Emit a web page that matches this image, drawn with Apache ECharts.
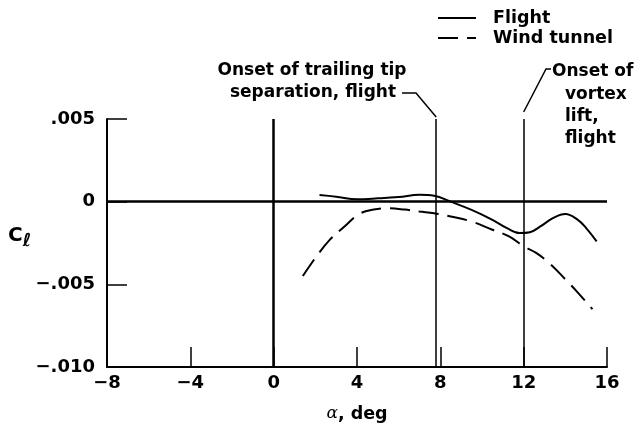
<!DOCTYPE html>
<html>
<head>
<meta charset="utf-8">
<script src="https://cdn.jsdelivr.net/npm/echarts@6/dist/echarts.min.js"></script>
<style>
html,body{margin:0;padding:0;background:#fff;}
#c{width:639px;height:428px;}
</style>
</head>
<body>
<div id="c"></div>
<script>
// ---- data ----
const flightAlpha = [2.2, 3.0, 4.0, 5.0, 6.0, 7.0, 7.7, 8.5, 9.5, 10.5, 11.2, 11.8, 12.3, 12.8, 13.4, 14.0, 14.6, 15.0, 15.5];
const flightCl    = [0.0004, 0.0003, 0.00015, 0.0002, 0.00028, 0.00042, 0.00036, 0.0, -0.0005, -0.0011, -0.0016, -0.0019, -0.00185, -0.0015, -0.001, -0.00075, -0.0011, -0.0016, -0.0024];
const windAlpha   = [1.4, 2.0, 2.7, 3.4, 4.1, 4.8, 5.5, 6.3, 7.0, 7.7, 8.5, 9.5, 10.5, 11.3, 12.0, 12.6, 13.3, 14.0, 14.6, 15.3];
const windCl      = [-0.0045, -0.0034, -0.0023, -0.0015, -0.00075, -0.00048, -0.0004, -0.00048, -0.0006, -0.0007, -0.0009, -0.0012, -0.0017, -0.0021, -0.0027, -0.0031, -0.0038, -0.0047, -0.0055, -0.0065];
const xTicks = [-8, -4, 0, 4, 8, 12, 16];
const xTickLabels = ['\u22128', '\u22124', '0', '4', '8', '12', '16'];
const yTicks = [0.005, 0, -0.005, -0.01];
const yTickLabels = ['.005', '0', '\u2212.005', '\u2212.010'];
const markAlphas = [0, 7.8, 12];
const seriesNames = ['Flight', 'Wind tunnel'];

const FONT = 'DejaVu Sans';
const chart = echarts.init(document.getElementById('c'));

function pair(a, b){ return a.map((v,i)=>[v, b[i]]); }
function lbl(ticks, labels, v){
  for (let i=0;i<ticks.length;i++){ if (Math.abs(ticks[i]-v) < 1e-9) return labels[i]; }
  return '';
}

const option = {
  animation: false,
  backgroundColor: '#fff',
  grid: {left: 107, right: 32, top: 119, bottom: 61, containLabel: false},
  legend: {
    data: seriesNames,
    orient: 'vertical',
    left: 432, top: 4,
    itemWidth: 38, itemHeight: 14, itemGap: 2,
    itemStyle: {opacity: 0},
    textStyle: {fontFamily: FONT, fontWeight: 'bold', fontSize: 17.5, color: '#000', padding: [0, 0, 0, 12]}
  },
  xAxis: {
    type: 'value', min: -8, max: 16, interval: 4,
    axisLine: {show: true, onZero: false, lineStyle: {color: '#000', width: 2}},
    axisTick: {show: true, inside: true, length: 20, lineStyle: {color: '#000', width: 1.5}},
    splitLine: {show: false},
    axisLabel: {margin: 7, color: '#000', fontFamily: FONT, fontWeight: 'bold', fontSize: 18,
      formatter: v => lbl(xTicks, xTickLabels, v)},
    name: '{a|\u03b1}{b|, deg}', nameLocation: 'middle', nameGap: 38,
    nameTextStyle: {rich: {
      a: {fontFamily: 'DejaVu Serif', fontStyle: 'italic', fontSize: 17, color: '#000'},
      b: {fontFamily: FONT, fontWeight: 'bold', fontSize: 17.5, color: '#000'}
    }}
  },
  yAxis: {
    type: 'value', min: -0.01, max: 0.005, interval: 0.005,
    axisLine: {show: true, onZero: false, lineStyle: {color: '#000', width: 2}},
    axisTick: {show: true, inside: true, length: 20, lineStyle: {color: '#000', width: 1.5}},
    splitLine: {show: false},
    axisLabel: {margin: 12, color: '#000', fontFamily: FONT, fontWeight: 'bold', fontSize: 18,
      formatter: v => lbl(yTicks, yTickLabels, v)}
  },
  series: [
    {
      name: seriesNames[0], type: 'line', data: pair(flightAlpha, flightCl),
      smooth: 0.4, symbol: 'none', color: '#000',
      lineStyle: {color: '#000', width: 2, type: 'solid'},
      markLine: {
        silent: true, symbol: 'none', label: {show: false},
        data: [
          {yAxis: 0, lineStyle: {color: '#000', width: 2.5, type: 'solid'}},
          {xAxis: markAlphas[0], lineStyle: {color: '#000', width: 2.5, type: 'solid'}},
          {xAxis: markAlphas[1], lineStyle: {color: '#000', width: 1.5, type: 'solid'}},
          {xAxis: markAlphas[2], lineStyle: {color: '#000', width: 1.5, type: 'solid'}}
        ]
      },
      z: 3
    },
    {
      name: seriesNames[1], type: 'line', data: pair(windAlpha, windCl),
      smooth: 0.4, symbol: 'none', color: '#000',
      lineStyle: {color: '#000', width: 2, type: [20, 9]},
      z: 3
    }
  ]
};
chart.setOption(option);

// annotations
const p1 = chart.convertToPixel({gridIndex: 0}, [markAlphas[1], 0.005]);
const p2 = chart.convertToPixel({gridIndex: 0}, [markAlphas[2], 0.005]);
const tStyle = {fontFamily: FONT, fontWeight: 'bold', fontSize: 17, fill: '#000'};
chart.setOption({
  graphic: [
    {type: 'text', left: 8, top: 226, style: {text: '{c|C}{l|\u2113}', rich: {
      c: {fontFamily: FONT, fontWeight: 'bold', fontSize: 20, fill: '#000'},
      l: {fontFamily: 'DejaVu Sans', fontStyle: 'italic', fontWeight: 'bold', fontSize: 18, fill: '#000', padding: [11,0,0,0]}
    }}},
    {type: 'text', x: 312, y: 71, style: Object.assign({text: 'Onset of trailing tip', align: 'center', verticalAlign: 'middle'}, tStyle)},
    {type: 'text', x: 313, y: 93, style: Object.assign({text: 'separation, flight', align: 'center', verticalAlign: 'middle'}, tStyle)},
    {type: 'polyline', shape: {points: [[402, 93], [416, 93], [p1[0], p1[1] - 2]]}, style: {stroke: '#000', lineWidth: 1.5, fill: null}},
    {type: 'text', x: 552, y: 72, style: Object.assign({text: 'Onset of', align: 'left', verticalAlign: 'middle'}, tStyle)},
    {type: 'text', x: 565, y: 95, style: Object.assign({text: 'vortex', align: 'left', verticalAlign: 'middle'}, tStyle)},
    {type: 'text', x: 565, y: 117, style: Object.assign({text: 'lift,', align: 'left', verticalAlign: 'middle'}, tStyle)},
    {type: 'text', x: 565, y: 139, style: Object.assign({text: 'flight', align: 'left', verticalAlign: 'middle'}, tStyle)},
    {type: 'polyline', shape: {points: [[p2[0], p2[1] - 7], [546, 69], [551, 69]]}, style: {stroke: '#000', lineWidth: 1.5, fill: null}}
  ]
});
</script>
</body>
</html>
